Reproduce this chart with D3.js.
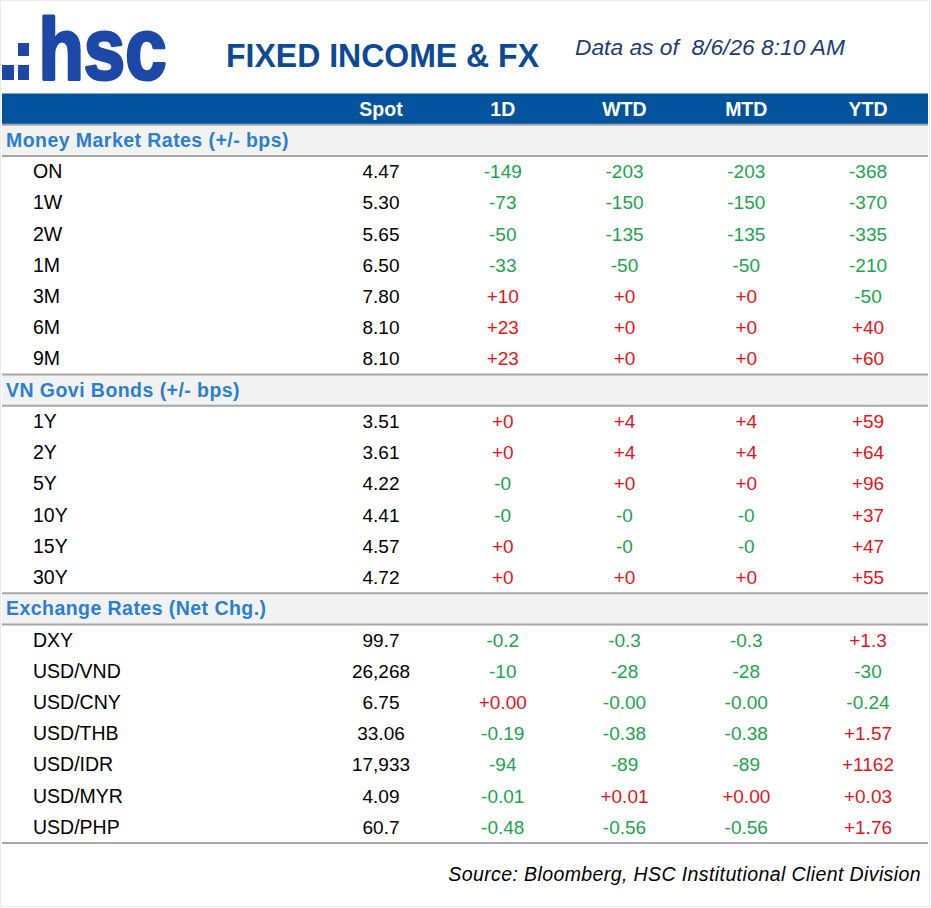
<!DOCTYPE html>
<html>
<head>
<meta charset="utf-8">
<script src="https://cdn.jsdelivr.net/npm/d3@7"></script>
<style>
  html, body { margin: 0; padding: 0; background: #fff; }
  svg { display: block; font-family: "Liberation Sans", Arial, sans-serif; }
</style>
</head>
<body>
<div id="chart"></div>
<script>
// ---- data ----
const columns = ['Spot', '1D', 'WTD', 'MTD', 'YTD'];

const sectionTitles = ['Money Market Rates (+/- bps)', 'VN Govi Bonds (+/- bps)', 'Exchange Rates (Net Chg.)'];

const mmLabels = ['ON', '1W', '2W', '1M', '3M', '6M', '9M'];
const mmSpot = ['4.47', '5.30', '5.65', '6.50', '7.80', '8.10', '8.10'];
const mm1D = ['-149', '-73', '-50', '-33', '+10', '+23', '+23'];
const mmWTD = ['-203', '-150', '-135', '-50', '+0', '+0', '+0'];
const mmMTD = ['-203', '-150', '-135', '-50', '+0', '+0', '+0'];
const mmYTD = ['-368', '-370', '-335', '-210', '-50', '+40', '+60'];

const bondLabels = ['1Y', '2Y', '5Y', '10Y', '15Y', '30Y'];
const bondSpot = ['3.51', '3.61', '4.22', '4.41', '4.57', '4.72'];
const bond1D = ['+0', '+0', '-0', '-0', '+0', '+0'];
const bondWTD = ['+4', '+4', '+0', '-0', '-0', '+0'];
const bondMTD = ['+4', '+4', '+0', '-0', '-0', '+0'];
const bondYTD = ['+59', '+64', '+96', '+37', '+47', '+55'];

const fxLabels = ['DXY', 'USD/VND', 'USD/CNY', 'USD/THB', 'USD/IDR', 'USD/MYR', 'USD/PHP'];
const fxSpot = ['99.7', '26,268', '6.75', '33.06', '17,933', '4.09', '60.7'];
const fx1D = ['-0.2', '-10', '+0.00', '-0.19', '-94', '-0.01', '-0.48'];
const fxWTD = ['-0.3', '-28', '-0.00', '-0.38', '-89', '+0.01', '-0.56'];
const fxMTD = ['-0.3', '-28', '-0.00', '-0.38', '-89', '+0.00', '-0.56'];
const fxYTD = ['+1.3', '-30', '-0.24', '+1.57', '+1162', '+0.03', '+1.76'];

// build a flat row list: section header rows followed by their data rows
function sectionRows(title, labels, spot, d1, wtd, mtd, ytd) {
    const out = [{ type: 'section', label: title }];
    labels.forEach((l, i) => {
        out.push({ type: 'data', label: l, values: [spot[i], d1[i], wtd[i], mtd[i], ytd[i]] });
    });
    return out;
}
const rows = [
    { type: 'header', label: '' },
    ...sectionRows(sectionTitles[0], mmLabels, mmSpot, mm1D, mmWTD, mmMTD, mmYTD),
    ...sectionRows(sectionTitles[1], bondLabels, bondSpot, bond1D, bondWTD, bondMTD, bondYTD),
    ...sectionRows(sectionTitles[2], fxLabels, fxSpot, fx1D, fxWTD, fxMTD, fxYTD)
];
rows.forEach((r, i) => r.id = i);

// ---- layout ----
const W = 931, H = 908;
const TABLE_LEFT = 2, TABLE_RIGHT = 928;
const BLUE = '#00539c';
const GREEN = '#1ba34e';
const RED = '#e5131d';
const LINE = '#a6a6a6';

const y = d3.scaleBand()
    .domain(rows.map(r => r.id))
    .range([93.5, 843])
    .padding(0);

const x = d3.scalePoint()
    .domain(columns)
    .range([381, 868]);

const svg = d3.select('#chart').append('svg')
    .attr('width', W)
    .attr('height', H);

// faint outer frame
svg.append('rect')
    .attr('x', 0.5).attr('y', 0.5)
    .attr('width', W - 2).attr('height', H - 2)
    .attr('fill', '#fff')
    .attr('stroke', '#ececec');

// ---- logo ".:hsc" ----
const LOGO = '#1d48a8';
const logo = svg.append('g');
[[2, 65, 12, 15], [18, 43, 11, 13], [18, 65, 11, 15]].forEach(([lx, ly, lw, lh]) => {
    logo.append('rect').attr('x', lx).attr('y', ly).attr('width', lw).attr('height', lh).attr('fill', LOGO);
});
logo.append('text')
    .attr('x', 38.5).attr('y', 78.5)
    .attr('font-size', 87)
    .attr('font-weight', 'bold')
    .attr('fill', LOGO)
    .attr('stroke', LOGO)
    .attr('stroke-width', 3.2)
    .attr('stroke-linejoin', 'round')
    .attr('textLength', 128)
    .attr('lengthAdjust', 'spacingAndGlyphs')
    .text('hsc');

// ---- titles ----
svg.append('text')
    .attr('x', 226).attr('y', 67)
    .attr('font-size', 33)
    .attr('font-weight', 'bold')
    .attr('fill', '#0d4a93')
    .attr('textLength', 313)
    .attr('lengthAdjust', 'spacingAndGlyphs')
    .text('FIXED INCOME & FX');

svg.append('text')
    .attr('x', 575).attr('y', 55)
    .attr('font-size', 21.5)
    .attr('font-style', 'italic')
    .attr('fill', '#1b3d74')
    .attr('textLength', 270)
    .attr('lengthAdjust', 'spacingAndGlyphs')
    .text('Data as of\u00a0 8/6/26 8:10 AM');

// ---- row backgrounds ----
const rowG = svg.append('g');
rowG.selectAll('rect.bg')
    .data(rows.filter(r => r.type !== 'data'))
    .join('rect')
    .attr('class', 'bg')
    .attr('x', TABLE_LEFT)
    .attr('y', r => y(r.id))
    .attr('width', TABLE_RIGHT - TABLE_LEFT)
    .attr('height', y.bandwidth())
    .attr('fill', r => r.type === 'header' ? BLUE : '#f2f2f2');

// grey rules above and below each section header, plus one closing the table
const ruleYs = [];
rows.forEach(r => {
    if (r.type === 'section') {
        ruleYs.push(y(r.id), y(r.id) + y.bandwidth());
    }
});
ruleYs.push(y(rows[rows.length - 1].id) + y.bandwidth());
rowG.selectAll('line.rule')
    .data(ruleYs)
    .join('line')
    .attr('class', 'rule')
    .attr('x1', TABLE_LEFT).attr('x2', TABLE_RIGHT)
    .attr('y1', d => d).attr('y2', d => d)
    .attr('stroke', LINE)
    .attr('stroke-width', 2);

const baseline = r => y(r.id) + y.bandwidth() / 2 + 6.5;

// ---- header labels ----
svg.append('g').selectAll('text')
    .data(columns)
    .join('text')
    .attr('x', c => x(c))
    .attr('y', baseline(rows[0]))
    .attr('text-anchor', 'middle')
    .attr('font-size', 19.5)
    .attr('font-weight', 'bold')
    .attr('fill', '#fff')
    .text(c => c);

// ---- section titles ----
svg.append('g').selectAll('text')
    .data(rows.filter(r => r.type === 'section'))
    .join('text')
    .attr('x', 6)
    .attr('y', baseline)
    .attr('font-size', 19.5)
    .attr('font-weight', 'bold')
    .attr('letter-spacing', 0.45)
    .attr('fill', '#2a7fd0')
    .text(r => r.label);

// ---- data rows ----
const dataRows = svg.append('g').selectAll('g')
    .data(rows.filter(r => r.type === 'data'))
    .join('g');

dataRows.append('text')
    .attr('x', 33)
    .attr('y', baseline)
    .attr('font-size', 19.5)
    .attr('fill', '#000')
    .text(r => r.label);

dataRows.selectAll('text.val')
    .data(r => r.values.map((v, i) => ({ v, col: columns[i], row: r })))
    .join('text')
    .attr('class', 'val')
    .attr('x', d => x(d.col))
    .attr('y', d => baseline(d.row))
    .attr('text-anchor', 'middle')
    .attr('font-size', 19)
    .attr('fill', d => {
        if (d.col === 'Spot') return '#000';
        return d.v.startsWith('+') ? RED : GREEN;
    })
    .text(d => d.v);

// ---- source ----
svg.append('text')
    .attr('x', 921).attr('y', 881)
    .attr('text-anchor', 'end')
    .attr('font-size', 19.5)
    .attr('font-style', 'italic')
    .attr('fill', '#000')
    .attr('letter-spacing', 0.4)
    .text('Source: Bloomberg, HSC Institutional Client Division');
</script>
</body>
</html>
